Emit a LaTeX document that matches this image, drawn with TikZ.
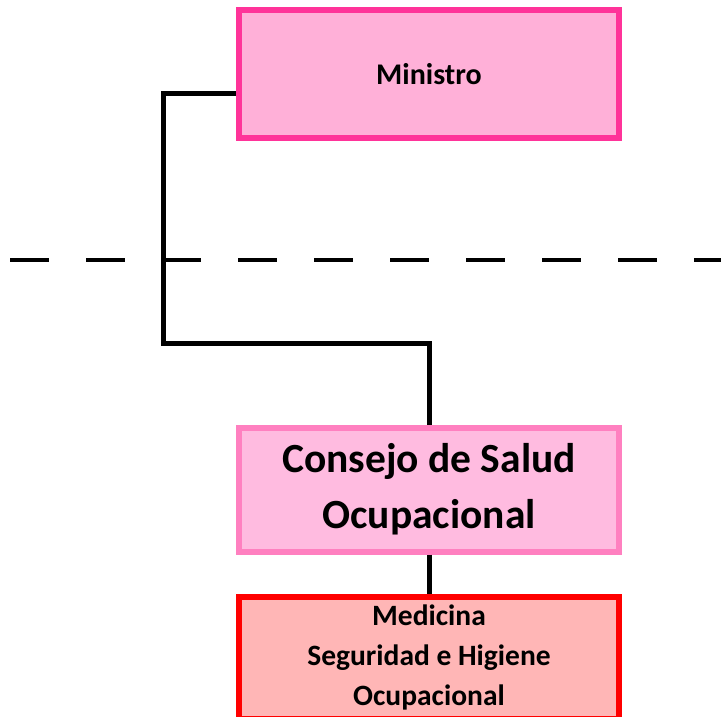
\documentclass[tikz,border=0pt]{standalone}
\usepackage{fontspec}
\setmainfont{Carlito}
\usetikzlibrary{positioning}
\definecolor{minfill}{HTML}{FFB0D8}
\definecolor{mindraw}{HTML}{FF3399}
\definecolor{consfill}{HTML}{FFBBE0}
\definecolor{consdraw}{HTML}{FF80C0}
\definecolor{medfill}{HTML}{FFB6B6}
\definecolor{meddraw}{HTML}{FF0000}

\begin{document}
\begin{tikzpicture}[
    x=1pt, y=1pt,
    box/.style={rectangle, draw, line width=6pt, minimum width=380pt, align=center},
    minbox/.style={box, draw=mindraw, fill=minfill, minimum height=127pt,
        font=\fontsize{30}{36}\selectfont\bfseries},
    consbox/.style={box, draw=consdraw, fill=consfill, minimum height=124pt,
        font=\fontsize{41.5}{56}\selectfont\bfseries},
    medbox/.style={box, draw=meddraw, fill=medfill, minimum height=122pt,
        font=\fontsize{29.5}{40}\selectfont\bfseries},
    link/.style={line width=5pt},
]
\useasboundingbox (0,0) rectangle (721,-717);

\node[minbox] (min) at (429,-74) {Ministro};
\node[consbox, below=284pt of min] (cons) {Consejo de Salud\\Ocupacional};
\node[medbox, below=39pt of cons] (med) {Medicina\\Seguridad e Higiene\\Ocupacional};

% dashed limit line
\coordinate (dl) at (10,-260);
\coordinate (dr) at (721,-260);
\draw[line width=4.5pt, dash pattern=on 39pt off 37pt] (dl) -- (dr);

\coordinate (bend) at (163,-343);
\draw[link] ([yshift=-20pt]min.west) -| (bend) -| (cons.north);
\draw[link] (cons.south) -- (med.north);
\end{tikzpicture}
\end{document}
